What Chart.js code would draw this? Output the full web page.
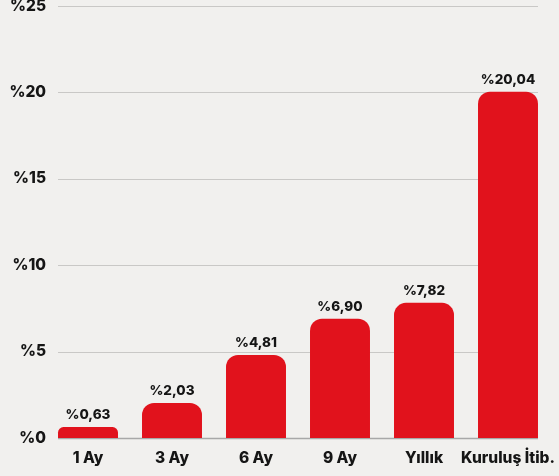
<!DOCTYPE html>
<html>
<head>
<meta charset="utf-8">
<script src="https://cdn.jsdelivr.net/npm/chart.js@4"></script>
<style>
  html, body { margin: 0; padding: 0; background: #f1f0ee; }
  #wrap { width: 559px; height: 476px; position: relative; }
</style>
</head>
<body>
<div id="wrap"><canvas id="chart"></canvas></div>
<script>
const categories = ['1 Ay', '3 Ay', '6 Ay', '9 Ay', 'Yıllık', 'Kuruluş İtib.'];
const returns = [0.63, 2.03, 4.81, 6.90, 7.82, 20.04];
const yTicks = [0, 5, 10, 15, 20, 25];

const barColor = '#e1121c';
const textColor = '#151515';
const fontFamily = 'Inter, "Noto Sans", sans-serif';

// yüzde formatı: %20,04
const fmt = v => '%' + v.toFixed(2).replace('.', ',');

// grid çizgileri ilk ve son barın kenarları arasında
const gridPlugin = {
    id: 'barGrid',
    beforeDatasetsDraw(chart) {
        const meta = chart.getDatasetMeta(0);
        const first = meta.data[0], last = meta.data[meta.data.length - 1];
        const x0 = first.x - first.width / 2;
        const x1 = last.x + last.width / 2;
        const y = chart.scales.y;
        const ctx = chart.ctx;
        ctx.save();
        yTicks.forEach(t => {
            const py = Math.round(y.getPixelForValue(t)) + 0.5;
            ctx.strokeStyle = t === 0 ? '#a8a8a8' : '#c9c8c6';
            ctx.lineWidth = t === 0 ? 1.5 : 1;
            ctx.beginPath();
            ctx.moveTo(x0, py);
            ctx.lineTo(x1, py);
            ctx.stroke();
        });
        ctx.restore();
    }
};

// bar üstü değer etiketleri
const valueLabels = {
    id: 'valueLabels',
    afterDatasetsDraw(chart) {
        const ctx = chart.ctx;
        const meta = chart.getDatasetMeta(0);
        ctx.save();
        ctx.font = '800 13.5px ' + fontFamily;
        ctx.fillStyle = textColor;
        ctx.textAlign = 'center';
        ctx.textBaseline = 'bottom';
        meta.data.forEach((bar, i) => {
            ctx.fillText(fmt(returns[i]), bar.x, bar.y - 5);
        });
        ctx.restore();
    }
};

new Chart(document.getElementById('chart'), {
    type: 'bar',
    data: {
        labels: categories,
        datasets: [{
            data: returns,
            backgroundColor: barColor,
            borderRadius: 12,
            borderSkipped: 'start',
            barPercentage: 1,
            categoryPercentage: 0.714
        }]
    },
    options: {
        responsive: true,
        maintainAspectRatio: false,
        animation: false,
        devicePixelRatio: 1,
        layout: { padding: { top: 0, right: 9, bottom: 0, left: 0 } },
        plugins: {
            legend: { display: false },
            tooltip: { enabled: false }
        },
        scales: {
            x: {
                grid: { display: false, drawTicks: false },
                border: { display: false },
                ticks: {
                    color: textColor,
                    font: { family: fontFamily, size: 15.5, weight: '800' },
                    padding: 11,
                    maxRotation: 0,
                    autoSkip: false
                },
                afterFit(scale) {
                    scale.height = 38;
                    scale.paddingLeft = 0;
                    scale.paddingRight = 0;
                }
            },
            y: {
                min: 0,
                max: 25,
                grid: { display: false, drawTicks: false, tickLength: 0 },
                border: { display: false },
                ticks: {
                    stepSize: 5,
                    padding: 0,
                    color: textColor,
                    font: { family: fontFamily, size: 15.5, weight: '800' },
                    callback: v => '%' + v
                },
                afterFit(scale) {
                    scale.width = 46;
                    scale.paddingTop = 6;
                    scale.paddingBottom = 0;
                }
            }
        }
    },
    plugins: [gridPlugin, valueLabels]
});
</script>
</body>
</html>
